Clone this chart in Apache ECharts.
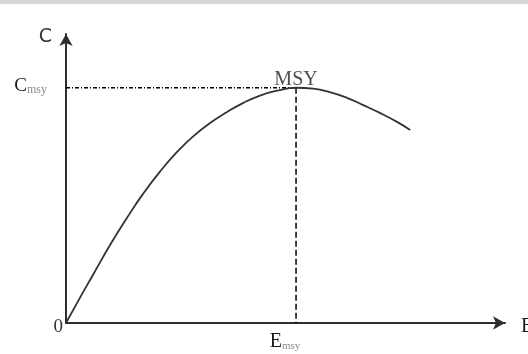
<!DOCTYPE html>
<html>
<head>
<meta charset="utf-8">
<script src="https://cdn.jsdelivr.net/npm/echarts@6/dist/echarts.min.js"></script>
<style>
  html, body { margin: 0; padding: 0; background: #fff; }
  #chart { width: 528px; height: 354px; }
</style>
</head>
<body>
<div id="chart"></div>
<script>
// Yield curve: catch (C) as a function of fishing effort (E)
const effort = [0, 3.2, 6.2, 10.0, 13.9, 17.5, 21.4, 25.3, 28.9, 32.8, 36.7, 40.3, 44.2, 48.1, 52.4, 56.3, 60.1, 64.0, 67.7, 71.5, 75.4, 78.4];
const catchValues = [0, 8.8, 16.8, 26.9, 36.4, 44.6, 52.4, 59.2, 64.5, 69.2, 73.0, 76.1, 78.7, 80.4, 81.4, 81.1, 79.9, 77.9, 75.4, 72.7, 69.6, 66.8];

// Maximum sustainable yield point
const E_MSY = [52.4];
const C_MSY = [81.4];

// Axis captions and tick labels
const yTickValues = [0, C_MSY[0]];
const xTickValues = [E_MSY[0]];
const axisNames = { x: 'E', y: 'C' };
const msyLabel = 'MSY';

const curve = effort.map((e, i) => [e, catchValues[i]]);
const hGuide = [[0, C_MSY[0]], [E_MSY[0], C_MSY[0]]];
const vGuide = [[E_MSY[0], C_MSY[0]], [E_MSY[0], 0]];

const chart = echarts.init(document.getElementById('chart'), null, { renderer: 'canvas' });

const axisLineStyle = { color: '#2e2e2e', width: 2 };

chart.setOption({
  animation: false,
  backgroundColor: '#ffffff',
  grid: { left: 66, right: 23, top: 34, bottom: 31, containLabel: false, outerBoundsMode: 'none' },
  graphic: [
    { type: 'rect', shape: { x: 0, y: 0, width: 528, height: 4 }, style: { fill: '#d6d6d6' }, silent: true }
  ],
  xAxis: {
    type: 'value', min: 0, max: 100,
    name: '{n|' + axisNames.x + '}', nameLocation: 'end', nameGap: 16,
    nameTextStyle: {
      verticalAlign: 'middle',
      rich: { n: { fontFamily: 'Liberation Serif', fontSize: 20, color: '#1a1a1a', padding: [8, 0, 0, 0] } }
    },
    axisLine: { show: true, onZero: false, lineStyle: axisLineStyle, symbol: ['none', 'arrow'], symbolSize: [10, 12] },
    axisTick: { show: false },
    splitLine: { show: false },
    axisLabel: {
      customValues: xTickValues,
      margin: 9,
      padding: [0, 22, 0, 0],
      formatter: () => '{e|E}{s|msy}',
      rich: {
        e: { fontFamily: 'Liberation Serif', fontSize: 20, color: '#1a1a1a' },
        s: { fontFamily: 'Liberation Serif', fontSize: 11, color: '#8a8a8a', padding: [9, 0, 0, 0] }
      }
    }
  },
  yAxis: {
    type: 'value', min: 0, max: 100,
    name: axisNames.y, nameLocation: 'end', nameGap: -3,
    nameTextStyle: { fontFamily: 'DejaVu Sans', fontSize: 19, color: '#333', align: 'right', verticalAlign: 'middle', padding: [0, 14, 0, 0] },
    axisLine: { show: true, onZero: false, lineStyle: axisLineStyle, symbol: ['none', 'arrow'], symbolSize: [10, 12] },
    axisTick: { show: false },
    splitLine: { show: false },
    axisLabel: {
      customValues: yTickValues,
      margin: 3,
      formatter: v => v === 0 ? '{z|0}' : '{c|C}{s|msy}',
      rich: {
        z: { fontFamily: 'Liberation Serif', fontSize: 19, color: '#333', padding: [8, 0, 0, 0] },
        c: { fontFamily: 'Liberation Serif', fontSize: 19, color: '#1a1a1a', padding: [0, 0, 4, 0] },
        s: { fontFamily: 'Liberation Serif', fontSize: 12, color: '#8a8a8a', padding: [4, 16, 0, 0] }
      }
    }
  },
  series: [
    {
      type: 'line', data: hGuide, symbol: 'none', silent: true,
      lineStyle: { color: '#000', width: 1.3, type: [4, 2, 1, 2] }
    },
    {
      type: 'line', data: vGuide, symbol: 'none', silent: true,
      lineStyle: { color: '#000', width: 1.5, type: [6, 3] }
    },
    {
      type: 'line', data: curve, symbol: 'none', smooth: 0.5, silent: true,
      lineStyle: { color: '#333', width: 1.8 }
    },
    {
      type: 'scatter', data: [[E_MSY[0], C_MSY[0]]], symbolSize: 0, silent: true,
      label: {
        show: true, position: 'top', distance: -2,
        formatter: () => msyLabel,
        fontFamily: 'Liberation Serif', fontSize: 20, color: '#222'
      }
    }
  ]
});
</script>
</body>
</html>
